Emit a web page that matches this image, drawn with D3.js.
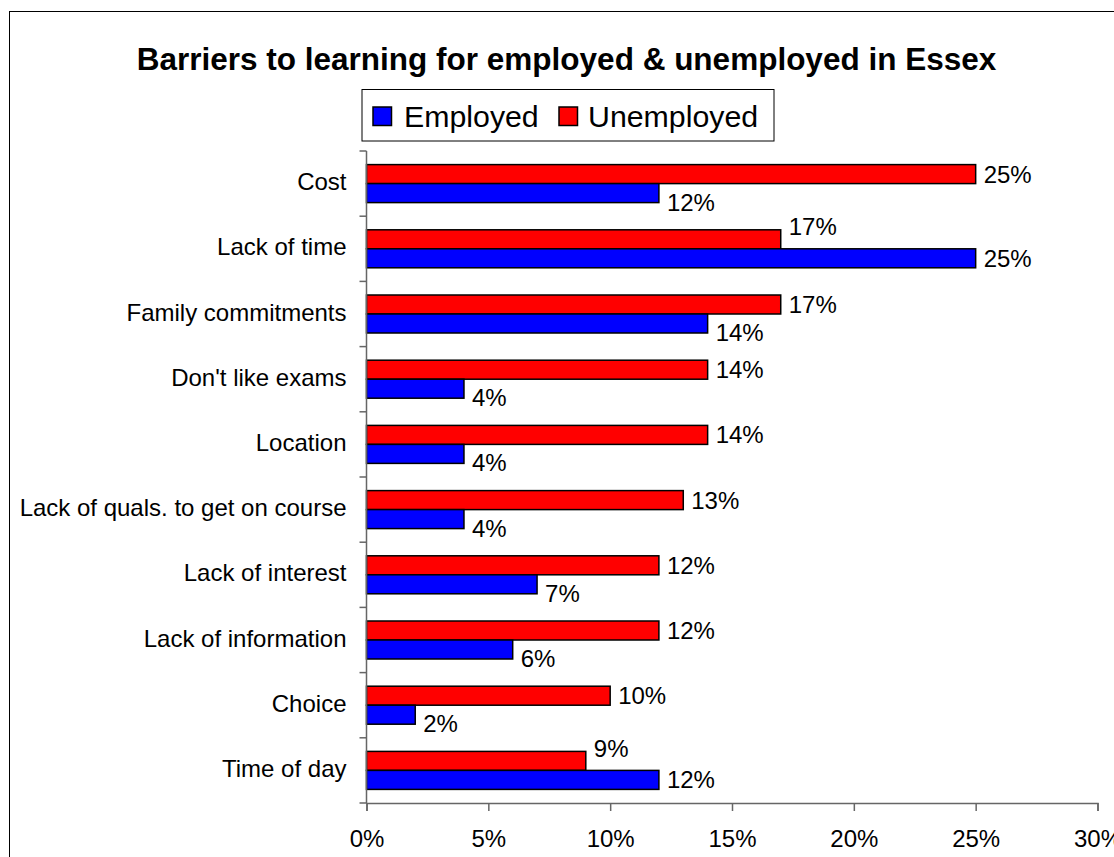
<!DOCTYPE html>
<html>
<head>
<meta charset="utf-8">
<script src="https://cdn.jsdelivr.net/npm/d3@7"></script>
<style>
  html, body { margin: 0; padding: 0; background: #fff; }
  svg { display: block; }
  text { font-family: "Liberation Sans", Arial, sans-serif; fill: #000; }
</style>
</head>
<body>
<svg id="chart" width="1114" height="857"></svg>
<script>
const categories = ["Cost", "Lack of time", "Family commitments", "Don't like exams", "Location",
  "Lack of quals. to get on course", "Lack of interest", "Lack of information", "Choice", "Time of day"];
const employed   = [12, 25, 14, 4, 4, 4, 7, 6, 2, 12];
const unemployed = [25, 17, 17, 14, 14, 13, 12, 12, 10, 9];
const seriesNames = ["Employed", "Unemployed"];
const seriesColors = ["#0000FF", "#FF0000"];
const xTicks = [0, 5, 10, 15, 20, 25, 30];
const title = "Barriers to learning for employed & unemployed in Essex";

const svg = d3.select("#chart");

// outer border
svg.append("rect").attr("x", 9.5).attr("y", 11.5).attr("width", 1200).attr("height", 1000)
  .attr("fill", "none").attr("stroke", "#000").attr("stroke-width", 1);

// title
svg.append("text").attr("x", 566.5).attr("y", 69.5).attr("text-anchor", "middle")
  .attr("font-size", 31.5).attr("font-weight", "bold").text(title);

// scales
const x = d3.scaleLinear().domain([0, 30]).range([366.5, 1097.5]);
const y0 = d3.scaleBand().domain(categories).range([151, 803]).padding(0);
const order = ["Unemployed", "Employed"];
const y1 = d3.scaleBand().domain(order).range([0, y0.bandwidth()]).paddingInner(0).paddingOuter(0.716);

const rows = categories.map((c, i) => ({cat: c, Employed: employed[i], Unemployed: unemployed[i]}));
const colorOf = name => seriesColors[seriesNames.indexOf(name)];

// bars
const g = svg.append("g");
const groups = g.selectAll("g.cat").data(rows).join("g").attr("class", "cat")
  .attr("transform", d => `translate(0,${y0(d.cat)})`);

groups.selectAll("rect").data(d => order.map(k => ({key: k, value: d[k], other: d[k === "Employed" ? "Unemployed" : "Employed"]})))
  .join("rect")
  .attr("x", x(0))
  .attr("y", d => y1(d.key))
  .attr("width", d => x(d.value) - x(0))
  .attr("height", y1.bandwidth())
  .attr("fill", d => colorOf(d.key))
  .attr("stroke", "#000").attr("stroke-width", 1.5);

// data labels
groups.selectAll("text").data(d => order.map(k => ({key: k, value: d[k], other: d[k === "Employed" ? "Unemployed" : "Employed"]})))
  .join("text")
  .attr("x", d => x(d.value) + 8)
  .attr("y", d => {
    let c = y1(d.key) + y1.bandwidth() / 2 + 8.6;
    if (d.value < d.other) c += (d.key === "Unemployed" ? -13 : 9);
    return c;
  })
  .attr("font-size", 24)
  .text(d => d.value + "%");

// y axis
const yAxisG = svg.append("g").attr("transform", `translate(${x(0)},0)`);
yAxisG.append("line").attr("x1", 0).attr("x2", 0).attr("y1", 151).attr("y2", 803)
  .attr("stroke", "#666").attr("stroke-width", 1.5);
const bounds = categories.map(c => y0(c)).concat([803]);
yAxisG.selectAll("line.tick").data(bounds).join("line").attr("class", "tick")
  .attr("x1", -7).attr("x2", 0).attr("y1", d => d).attr("y2", d => d)
  .attr("stroke", "#666").attr("stroke-width", 1.5);
yAxisG.selectAll("text").data(categories).join("text")
  .attr("x", -20).attr("y", d => y0(d) + y0.bandwidth() / 2 + 6.5)
  .attr("text-anchor", "end").attr("font-size", 24).text(d => d);

// x axis
const xAxis = d3.axisBottom(x).tickValues(xTicks).tickFormat(d => d + "%").tickSize(8).tickPadding(19);
const xAxisG = svg.append("g").attr("transform", "translate(0,803)").call(xAxis);
xAxisG.select(".domain").attr("stroke", "#666").attr("stroke-width", 1.5);
xAxisG.selectAll(".tick line").attr("stroke", "#666").attr("stroke-width", 1.5);
xAxisG.selectAll(".tick text").attr("font-size", 24).attr("font-family", "Liberation Sans, Arial, sans-serif")
  .attr("fill", "#000");

// legend
const lg = svg.append("g");
lg.append("rect").attr("x", 362).attr("y", 89.5).attr("width", 412).attr("height", 51.5)
  .attr("fill", "#fff").attr("stroke", "#000").attr("stroke-width", 1);
const legendItems = [{name: "Employed", sx: 373, tx: 404}, {name: "Unemployed", sx: 559, tx: 588}];
lg.selectAll("rect.sw").data(legendItems).join("rect").attr("class", "sw")
  .attr("x", d => d.sx).attr("y", 107).attr("width", 18.5).attr("height", 18.5)
  .attr("fill", d => colorOf(d.name)).attr("stroke", "#000").attr("stroke-width", 1.5);
lg.selectAll("text").data(legendItems).join("text")
  .attr("x", d => d.tx).attr("y", 126.7).attr("font-size", 30.3).text(d => d.name);
</script>
</body>
</html>
